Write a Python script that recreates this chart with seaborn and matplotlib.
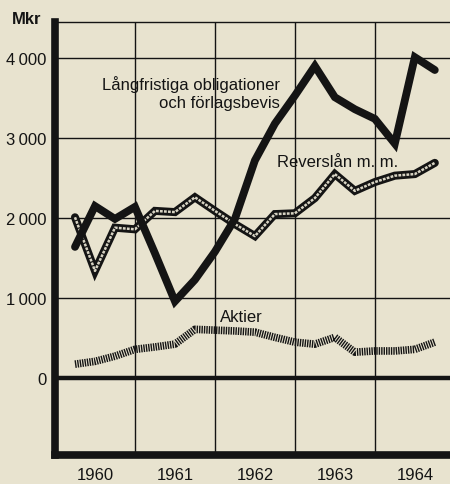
import numpy as np
import pandas as pd
import seaborn as sns
import matplotlib.pyplot as plt

# quarterly observations, 1960 Q1 .. 1964 Q3 (Mkr)
quarters = [1960.25, 1960.5, 1960.75, 1961.0,
            1961.25, 1961.5, 1961.75, 1962.0,
            1962.25, 1962.5, 1962.75, 1963.0,
            1963.25, 1963.5, 1963.75, 1964.0,
            1964.25, 1964.5, 1964.75]
langfristiga = [1640, 2150, 1990, 2140, 1560, 960, 1230, 1580,
                1990, 2720, 3180, 3530, 3900, 3510, 3360, 3240,
                2930, 4010, 3850]
reverslan = [2010, 1340, 1880, 1860, 2090, 2075, 2260, 2090,
             1925, 1775, 2050, 2060, 2250, 2550, 2340, 2450,
             2530, 2550, 2690]
aktier = [175, 210, 275, 360, 390, 425, 610, 600,
          590, 575, 510, 450, 425, 510, 325, 340,
          340, 360, 450]

year_labels = ["1960", "1961", "1962", "1963", "1964"]
ytick_vals = [0, 1000, 2000, 3000, 4000]
ytick_labels = ["0", "1\u2009000", "2\u2009000", "3\u2009000", "4\u2009000"]

df = pd.DataFrame({"t": quarters, "lang": langfristiga,
                   "rev": reverslan, "akt": aktier})

paper = "#e8e3cf"
ink = "#141414"

sns.set_style("white")
plt.rcParams["font.family"] = ["Liberation Sans", "DejaVu Sans"]
plt.rcParams["lines.scale_dashes"] = False

fig = plt.figure(figsize=(4.5, 4.85), dpi=100, facecolor=paper)
ax = fig.add_axes([55 / 450, 1 - 456 / 485, 395 / 450, 433 / 485])
ax.set_facecolor(paper)

# grid
for v in ytick_vals[1:]:
    ax.axhline(v, color=ink, lw=1.0, zorder=1)
for yr in range(1961, 1965):
    ax.axvline(yr, color=ink, lw=1.0, zorder=1)
ax.axhline(0, color=ink, lw=3.2, zorder=1)

# series
sns.lineplot(data=df, x="t", y="lang", ax=ax, color=ink, lw=5.6,
             solid_joinstyle="miter", zorder=4)
sns.lineplot(data=df, x="t", y="rev", ax=ax, color=ink, lw=5.8,
             solid_joinstyle="miter", zorder=3)
sns.lineplot(data=df, x="t", y="rev", ax=ax, color="#d8d4c4", lw=1.8,
             dashes=(2.0, 0.9), dash_capstyle="butt", zorder=3)
sns.lineplot(data=df, x="t", y="akt", ax=ax, color=ink, lw=5.5,
             dashes=(1.0, 0.75), dash_capstyle="butt", zorder=3)

ax.set_xlim(1960, 1964.94)
ax.set_ylim(-960, 4450)

# spines
for side in ["left", "bottom"]:
    ax.spines[side].set_linewidth(5.5)
    ax.spines[side].set_color(ink)
ax.spines["top"].set_linewidth(1.0)
ax.spines["top"].set_color(ink)
ax.spines["right"].set_visible(False)

# ticks
mid_years = [int(y) + 0.5 for y in year_labels]
ax.set_xticks(mid_years)
ax.set_xticklabels(year_labels)
ax.set_xticks([int(y) + q for y in year_labels for q in (0.25, 0.75)], minor=True)
ax.tick_params(axis="x", which="major", direction="in", length=11.5,
               width=1.1, color=ink, pad=9, labelsize=12, labelcolor=ink)
ax.tick_params(axis="x", which="minor", direction="in", length=7,
               width=1.1, color=ink)
ax.set_yticks(ytick_vals)
ax.set_yticklabels(ytick_labels)
ax.tick_params(axis="y", length=0, pad=6, labelsize=12, labelcolor=ink)
ax.set_xlabel("")
ax.set_ylabel("")

# annotations
ax.text(1962.81, 3575, "Långfristiga obligationer\noch förlagsbevis",
        ha="right", va="center", multialignment="right", linespacing=1.25,
        fontsize=12, color=ink, zorder=5)
ax.text(1962.775, 2712, "Reverslån m. m.", ha="left", va="center",
        fontsize=12, color=ink, zorder=5)
ax.text(1962.06, 775, "Aktier", ha="left", va="center",
        fontsize=12, color=ink, zorder=5)
fig.text(12 / 450, 1 - 20 / 485, "Mkr", ha="left", va="center",
         fontsize=12, fontweight="bold", color=ink)

fig.savefig("out.png", dpi=100, facecolor=paper)
